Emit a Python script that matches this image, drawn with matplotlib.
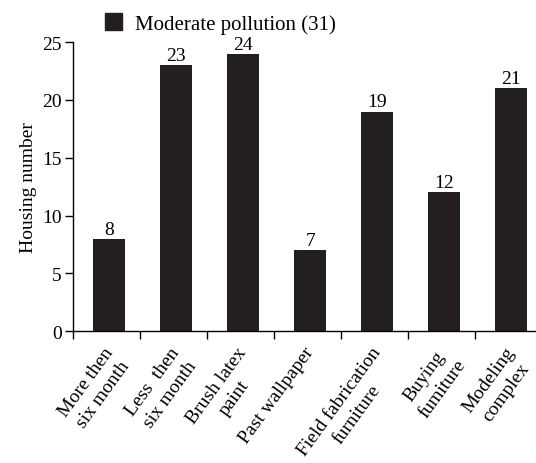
import matplotlib.pyplot as plt
from matplotlib.patches import Patch
import numpy as np

categories = ['More then\nsix month', 'Less  then\nsix month', 'Brush latex\npaint',
              'Past wallpaper', 'Field fabrication\nfurniture', 'Buying\nfumiture',
              'Modeling\ncomplex']
counts = [8, 23, 24, 7, 19, 12, 21]
legend_label = 'Moderate pollution (31)'

plt.rcParams['font.family'] = ['Liberation Serif', 'DejaVu Serif']
plt.rcParams['font.size'] = 14

fig = plt.figure(figsize=(5.36, 4.64), dpi=100)
ax = fig.add_axes([0.136, 0.284, 0.864, 0.623])

x = np.arange(len(categories))
bar_color = '#231f20'
ax.bar(x, counts, width=0.48, color=bar_color)

for xi, v in zip(x, counts):
    ax.text(xi, v + 0.1, str(v), ha='center', va='bottom', fontsize=14)

ax.set_xlim(-0.545, 6.37)
ax.set_ylim(0, 25)
ax.set_yticks([0, 5, 10, 15, 20, 25])
ax.set_ylabel('Housing number', fontsize=14, labelpad=4)

# boundary ticks between categories, labels sit under the bars
ax.set_xticks(x - 0.545)
ax.set_xticklabels([])
ax.set_xticks(x - 0.1, minor=True)
ax.set_xticklabels(categories, minor=True, rotation=54, ha='right',
                   rotation_mode='anchor', multialignment='center',
                   linespacing=1.35, fontsize=14)
ax.tick_params(axis='x', which='minor', length=0, pad=9)
ax.tick_params(axis='both', which='major', direction='out', length=6, width=1,
               labelsize=14, pad=2)

for side in ['top', 'right']:
    ax.spines[side].set_visible(False)
ax.spines['left'].set_linewidth(1)
ax.spines['bottom'].set_linewidth(1)

handle = Patch(facecolor=bar_color, edgecolor=bar_color)
fig.legend([handle], [legend_label], loc='upper left', bbox_to_anchor=(0.16, 1.01),
           frameon=False, handlelength=0.85, handleheight=0.85, handletextpad=0.6,
           fontsize=15)

fig.savefig('out.png', dpi=100)
